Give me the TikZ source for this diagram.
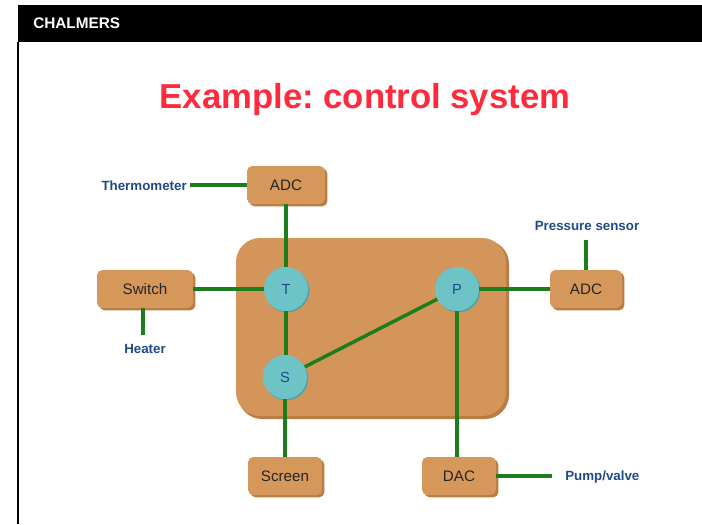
\documentclass[tikz,border=0pt]{standalone}
\usepackage{fontspec}
\setmainfont{Liberation Sans}
\frenchspacing
\definecolor{boxc}{HTML}{D6975A}
\definecolor{boxdark}{HTML}{B97C42}
\definecolor{bigc}{HTML}{D4955A}
\definecolor{circc}{HTML}{6EC3C6}
\definecolor{circdark}{HTML}{4FA3A8}
\definecolor{wire}{HTML}{1C7D1C}
\definecolor{lblue}{HTML}{1F4A8A}
\definecolor{titlered}{HTML}{FF2A3C}
\begin{document}
\begin{tikzpicture}[x=0.75pt,y=-0.75pt,
  boxst/.style={rounded corners=4pt, fill=boxc, minimum height=28.5pt, inner sep=0pt,
     font=\fontsize{11.4}{13}\selectfont, text=black!85,
     preaction={fill=boxdark, transform canvas={shift={(1.8pt,-1.8pt)}}}},
  circst/.style={circle, fill=circc, minimum size=33pt, inner sep=0pt,
     font=\fontsize{11}{13}\selectfont, text=lblue,
     preaction={fill=circdark, transform canvas={shift={(1pt,-1pt)}}}},
  lbl/.style={font=\bfseries\fontsize{10}{12}\selectfont, text=lblue, inner sep=0pt},
  wirest/.style={draw=wire, line width=2.6pt}]
\useasboundingbox (0,0) rectangle (702,524);
% header
\fill[black] (18,5) rectangle (702,42);
\draw[black, line width=1.2pt] (18,42) -- (18,524);
\node[anchor=west, text=white, font=\bfseries\fontsize{11.5}{13}\selectfont, inner sep=0pt] (hdr) at (33,23) {CHALMERS};
% title
\node[text=titlered, font=\bfseries\fontsize{26}{30}\selectfont, inner sep=0pt] (title) at (365,100) {Example: control system};
% big rounded rect
\fill[boxdark, rounded corners=18pt] (238,240) rectangle (509,419);
\fill[bigc, rounded corners=18pt] (236,238) rectangle (506,416);
% boxes
\node[boxst, minimum width=58.5pt] (adc1) at (286,185) {ADC};
\node[boxst, minimum width=72pt] (sw) at (145,289) {Switch};
\node[boxst, minimum width=54pt] (adc2) at (586,289) {ADC};
\node[boxst, minimum width=55.5pt] (scr) at (285,476) {Screen};
\node[boxst, minimum width=55.5pt] (dac) at (459,476) {DAC};
% circles
\node[circst] (T) at (286,289) {T};
\node[circst] (P) at (457,289) {P};
\node[circst] (S) at (285,377) {S};
% labels
\node[lbl, anchor=east] (therm) at (187,186) {Thermometer};
\node[lbl] (press) at (587,226) {Pressure sensor};
\node[lbl] (heat) at (145,349) {Heater};
\node[lbl, anchor=west] (pump) at (565,477) {Pump/valve};
\coordinate (pc) at (586,240);
\coordinate (hc) at (143,335);
\coordinate (pv) at (552,476);
% wires
\draw[wirest] (therm.east) ++(3,-1) -- (adc1.west |- 0,185);
\draw[wirest] (adc1) -- (adc1 |- T.north);
\draw[wirest] (sw) -- (T);
\draw[wirest] (T.south) -- (T.south |- S.north);
\draw[wirest] (S) -- (P);
\draw[wirest] (P) -- (adc2);
\draw[wirest] (pc) -- (adc2.north);
\draw[wirest] (P) -- (P |- dac.north);
\draw[wirest] (S) -- (S |- scr.north);
\draw[wirest] (sw.south -| hc) -- (hc);
\draw[wirest] (dac) -- (pv);
\end{tikzpicture}
\end{document}
